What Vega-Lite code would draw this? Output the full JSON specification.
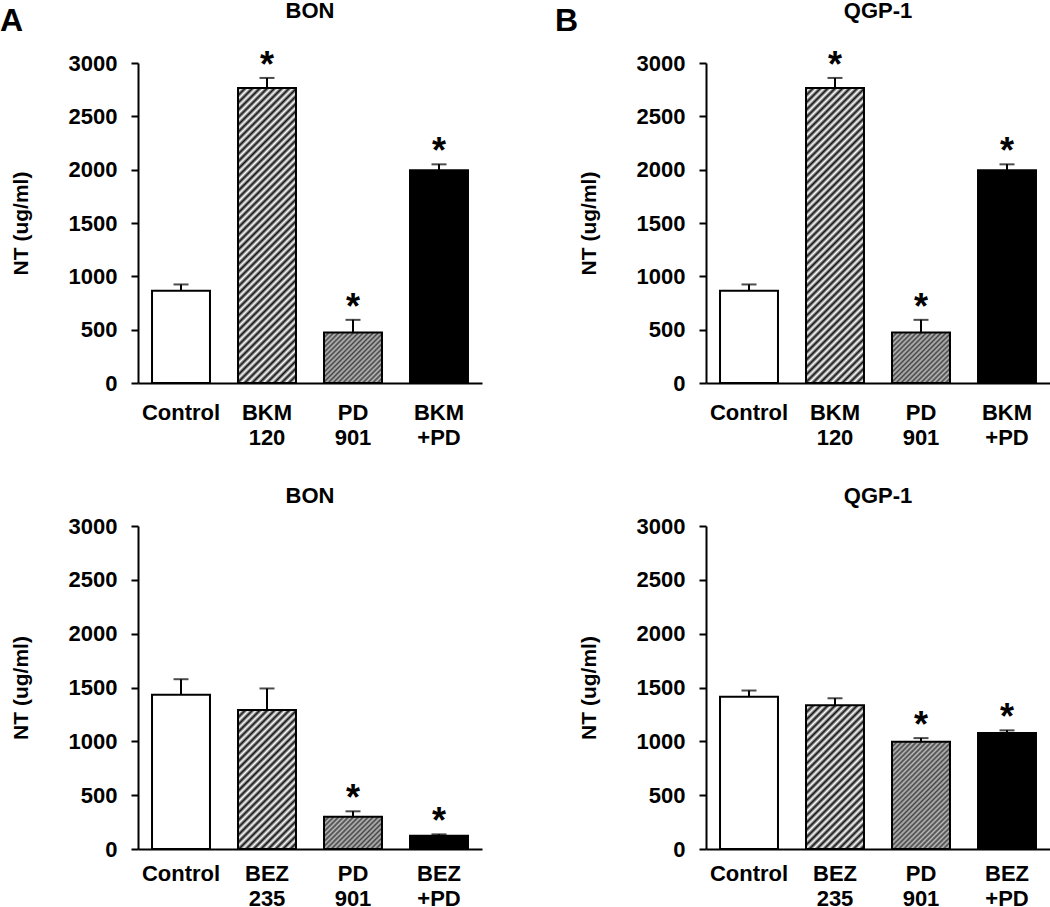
{
  "$schema": "https://vega.github.io/schema/vega-lite/v6.json",
  "background": "white",
  "padding": {"left": 0, "top": -1, "right": 0, "bottom": 0},
  "data": {"values": [
    {"panel": "A1", "drug": "Control", "type": "control", "value": 865, "hi": 924, "sig": ""},
    {"panel": "A1", "drug": "BKM 120", "type": "pi3k", "value": 2765, "hi": 2860, "sig": "*"},
    {"panel": "A1", "drug": "PD 901", "type": "mek", "value": 473, "hi": 592, "sig": "*"},
    {"panel": "A1", "drug": "BKM +PD", "type": "combo", "value": 1995, "hi": 2050, "sig": "*"},
    {"panel": "B1", "drug": "Control", "type": "control", "value": 865, "hi": 924, "sig": ""},
    {"panel": "B1", "drug": "BKM 120", "type": "pi3k", "value": 2765, "hi": 2860, "sig": "*"},
    {"panel": "B1", "drug": "PD 901", "type": "mek", "value": 473, "hi": 592, "sig": "*"},
    {"panel": "B1", "drug": "BKM +PD", "type": "combo", "value": 1995, "hi": 2050, "sig": "*"},
    {"panel": "A2", "drug": "Control", "type": "control", "value": 1432, "hi": 1577, "sig": ""},
    {"panel": "A2", "drug": "BEZ 235", "type": "pi3k", "value": 1290, "hi": 1491, "sig": ""},
    {"panel": "A2", "drug": "PD 901", "type": "mek", "value": 300, "hi": 350, "sig": "*"},
    {"panel": "A2", "drug": "BEZ +PD", "type": "combo", "value": 123, "hi": 136, "sig": "*"},
    {"panel": "B2", "drug": "Control", "type": "control", "value": 1415, "hi": 1472, "sig": ""},
    {"panel": "B2", "drug": "BEZ 235", "type": "pi3k", "value": 1335, "hi": 1400, "sig": ""},
    {"panel": "B2", "drug": "PD 901", "type": "mek", "value": 995, "hi": 1030, "sig": "*"},
    {"panel": "B2", "drug": "BEZ +PD", "type": "combo", "value": 1078, "hi": 1102, "sig": "*"}
  ]},
  "spacing": 73,
  "hconcat": [
    {
      "title": {"text": "A", "anchor": "start", "fontSize": 32, "offset": -38.8, "dx": -10},
      "spacing": 37,
      "vconcat": [
        {
          "title": {"text": "BON", "offset": 25.3},
          "width": 344, "height": 320,
          "transform": [{"filter": "datum.panel=='A1'"}],
          "encoding": {
            "x": {"field": "drug", "type": "nominal", "sort": null, "title": null, "scale": {"paddingInner": 0.326, "paddingOuter": 0.163}, "axis": {"labelExpr": "split(datum.label,' ')", "labelPadding": 19}},
            "y": {"field": "value", "type": "quantitative", "title": "NT (ug/ml)", "scale": {"domain": [0, 3000], "nice": false}, "axis": {"values": [0, 500, 1000, 1500, 2000, 2500, 3000], "format": "d"}}
          },
          "layer": [
            {"mark": {"type": "rule", "color": "#000", "strokeWidth": 2}, "encoding": {"y2": {"field": "hi"}}},
            {"mark": {"type": "tick", "color": "#000", "size": 15, "thickness": 2}, "encoding": {"y": {"field": "hi", "type": "quantitative", "title": "NT (ug/ml)"}}},
            {"transform": [{"filter": "datum.type=='control'||datum.type=='combo'"}], "mark": {"type": "bar", "stroke": "#000", "strokeWidth": 2}, "encoding": {"fill": {"condition": {"test": "datum.type=='combo'", "value": "#000"}, "value": "#fff"}}},
            {"transform": [{"filter": "datum.type=='pi3k'"}], "mark": {"type": "bar", "stroke": "#000", "strokeWidth": 2, "fill": {"gradient": "linear", "x1": 0, "y1": 0, "x2": 0.23609, "y2": 1.2004, "stops": [{"offset":0,"color":"#111"},{"offset":0.01,"color":"#fff"},{"offset":0.02,"color":"#111"},{"offset":0.03,"color":"#fff"},{"offset":0.04,"color":"#111"},{"offset":0.05,"color":"#fff"},{"offset":0.06,"color":"#111"},{"offset":0.07,"color":"#fff"},{"offset":0.08,"color":"#111"},{"offset":0.09,"color":"#fff"},{"offset":0.1,"color":"#111"},{"offset":0.11,"color":"#fff"},{"offset":0.12,"color":"#111"},{"offset":0.13,"color":"#fff"},{"offset":0.14,"color":"#111"},{"offset":0.15,"color":"#fff"},{"offset":0.16,"color":"#111"},{"offset":0.17,"color":"#fff"},{"offset":0.18,"color":"#111"},{"offset":0.19,"color":"#fff"},{"offset":0.2,"color":"#111"},{"offset":0.21,"color":"#fff"},{"offset":0.22,"color":"#111"},{"offset":0.23,"color":"#fff"},{"offset":0.24,"color":"#111"},{"offset":0.25,"color":"#fff"},{"offset":0.26,"color":"#111"},{"offset":0.27,"color":"#fff"},{"offset":0.28,"color":"#111"},{"offset":0.29,"color":"#fff"},{"offset":0.3,"color":"#111"},{"offset":0.31,"color":"#fff"},{"offset":0.32,"color":"#111"},{"offset":0.33,"color":"#fff"},{"offset":0.34,"color":"#111"},{"offset":0.35,"color":"#fff"},{"offset":0.36,"color":"#111"},{"offset":0.37,"color":"#fff"},{"offset":0.38,"color":"#111"},{"offset":0.39,"color":"#fff"},{"offset":0.4,"color":"#111"},{"offset":0.41,"color":"#fff"},{"offset":0.42,"color":"#111"},{"offset":0.43,"color":"#fff"},{"offset":0.44,"color":"#111"},{"offset":0.45,"color":"#fff"},{"offset":0.46,"color":"#111"},{"offset":0.47,"color":"#fff"},{"offset":0.48,"color":"#111"},{"offset":0.49,"color":"#fff"},{"offset":0.5,"color":"#111"},{"offset":0.51,"color":"#fff"},{"offset":0.52,"color":"#111"},{"offset":0.53,"color":"#fff"},{"offset":0.54,"color":"#111"},{"offset":0.55,"color":"#fff"},{"offset":0.56,"color":"#111"},{"offset":0.57,"color":"#fff"},{"offset":0.58,"color":"#111"},{"offset":0.59,"color":"#fff"},{"offset":0.6,"color":"#111"},{"offset":0.61,"color":"#fff"},{"offset":0.62,"color":"#111"},{"offset":0.63,"color":"#fff"},{"offset":0.64,"color":"#111"},{"offset":0.65,"color":"#fff"},{"offset":0.66,"color":"#111"},{"offset":0.67,"color":"#fff"},{"offset":0.68,"color":"#111"},{"offset":0.69,"color":"#fff"},{"offset":0.7,"color":"#111"},{"offset":0.71,"color":"#fff"},{"offset":0.72,"color":"#111"},{"offset":0.73,"color":"#fff"},{"offset":0.74,"color":"#111"},{"offset":0.75,"color":"#fff"},{"offset":0.76,"color":"#111"},{"offset":0.77,"color":"#fff"},{"offset":0.78,"color":"#111"},{"offset":0.79,"color":"#fff"},{"offset":0.8,"color":"#111"},{"offset":0.81,"color":"#fff"},{"offset":0.82,"color":"#111"},{"offset":0.83,"color":"#fff"},{"offset":0.84,"color":"#111"},{"offset":0.85,"color":"#fff"},{"offset":0.86,"color":"#111"},{"offset":0.87,"color":"#fff"},{"offset":0.88,"color":"#111"},{"offset":0.89,"color":"#fff"},{"offset":0.9,"color":"#111"},{"offset":0.91,"color":"#fff"},{"offset":0.92,"color":"#111"},{"offset":0.93,"color":"#fff"},{"offset":0.94,"color":"#111"},{"offset":0.95,"color":"#fff"},{"offset":0.96,"color":"#111"},{"offset":0.97,"color":"#fff"},{"offset":0.98,"color":"#111"},{"offset":0.99,"color":"#fff"},{"offset":1,"color":"#111"}]}}},
            {"transform": [{"filter": "datum.type=='mek'"}], "mark": {"type": "bar", "stroke": "#000", "strokeWidth": 2, "fill": {"gradient": "linear", "x1": 0, "y1": 0, "x2": 1.21353, "y2": 1.05661, "stops": [{"offset":0,"color":"#444"},{"offset":0.02,"color":"#bbb"},{"offset":0.04,"color":"#444"},{"offset":0.06,"color":"#bbb"},{"offset":0.08,"color":"#444"},{"offset":0.1,"color":"#bbb"},{"offset":0.12,"color":"#444"},{"offset":0.14,"color":"#bbb"},{"offset":0.16,"color":"#444"},{"offset":0.18,"color":"#bbb"},{"offset":0.2,"color":"#444"},{"offset":0.22,"color":"#bbb"},{"offset":0.24,"color":"#444"},{"offset":0.26,"color":"#bbb"},{"offset":0.28,"color":"#444"},{"offset":0.3,"color":"#bbb"},{"offset":0.32,"color":"#444"},{"offset":0.34,"color":"#bbb"},{"offset":0.36,"color":"#444"},{"offset":0.38,"color":"#bbb"},{"offset":0.4,"color":"#444"},{"offset":0.42,"color":"#bbb"},{"offset":0.44,"color":"#444"},{"offset":0.46,"color":"#bbb"},{"offset":0.48,"color":"#444"},{"offset":0.5,"color":"#bbb"},{"offset":0.52,"color":"#444"},{"offset":0.54,"color":"#bbb"},{"offset":0.56,"color":"#444"},{"offset":0.58,"color":"#bbb"},{"offset":0.6,"color":"#444"},{"offset":0.62,"color":"#bbb"},{"offset":0.64,"color":"#444"},{"offset":0.66,"color":"#bbb"},{"offset":0.68,"color":"#444"},{"offset":0.7,"color":"#bbb"},{"offset":0.72,"color":"#444"},{"offset":0.74,"color":"#bbb"},{"offset":0.76,"color":"#444"},{"offset":0.78,"color":"#bbb"},{"offset":0.8,"color":"#444"},{"offset":0.82,"color":"#bbb"},{"offset":0.84,"color":"#444"},{"offset":0.86,"color":"#bbb"},{"offset":0.88,"color":"#444"},{"offset":0.9,"color":"#bbb"},{"offset":0.92,"color":"#444"},{"offset":0.94,"color":"#bbb"},{"offset":0.96,"color":"#444"},{"offset":0.98,"color":"#bbb"},{"offset":1,"color":"#444"}]}}},
            {"transform": [{"filter": "datum.sig=='*'"}], "mark": {"type": "text", "text": "*", "fontSize": 36, "fontWeight": "bold", "baseline": "alphabetic", "dy": -1, "color": "#000"}, "encoding": {"y": {"field": "hi", "type": "quantitative", "title": "NT (ug/ml)"}}}
          ]
        },
        {
          "title": {"text": "BON", "offset": 7},
          "width": 344, "height": 323,
          "transform": [{"filter": "datum.panel=='A2'"}],
          "encoding": {
            "x": {"field": "drug", "type": "nominal", "sort": null, "title": null, "scale": {"paddingInner": 0.326, "paddingOuter": 0.163}, "axis": {"labelExpr": "split(datum.label,' ')", "labelPadding": 14}},
            "y": {"field": "value", "type": "quantitative", "title": "NT (ug/ml)", "scale": {"domain": [0, 3000], "nice": false}, "axis": {"values": [0, 500, 1000, 1500, 2000, 2500, 3000], "format": "d"}}
          },
          "layer": [
            {"mark": {"type": "rule", "color": "#000", "strokeWidth": 2}, "encoding": {"y2": {"field": "hi"}}},
            {"mark": {"type": "tick", "color": "#000", "size": 15, "thickness": 2}, "encoding": {"y": {"field": "hi", "type": "quantitative", "title": "NT (ug/ml)"}}},
            {"transform": [{"filter": "datum.type=='control'||datum.type=='combo'"}], "mark": {"type": "bar", "stroke": "#000", "strokeWidth": 2}, "encoding": {"fill": {"condition": {"test": "datum.type=='combo'", "value": "#000"}, "value": "#fff"}}},
            {"transform": [{"filter": "datum.type=='pi3k'"}], "mark": {"type": "bar", "stroke": "#000", "strokeWidth": 2, "fill": {"gradient": "linear", "x1": 0, "y1": 0, "x2": 0.94126, "y2": 2.25416, "stops": [{"offset":0,"color":"#111"},{"offset":0.01,"color":"#fff"},{"offset":0.02,"color":"#111"},{"offset":0.03,"color":"#fff"},{"offset":0.04,"color":"#111"},{"offset":0.05,"color":"#fff"},{"offset":0.06,"color":"#111"},{"offset":0.07,"color":"#fff"},{"offset":0.08,"color":"#111"},{"offset":0.09,"color":"#fff"},{"offset":0.1,"color":"#111"},{"offset":0.11,"color":"#fff"},{"offset":0.12,"color":"#111"},{"offset":0.13,"color":"#fff"},{"offset":0.14,"color":"#111"},{"offset":0.15,"color":"#fff"},{"offset":0.16,"color":"#111"},{"offset":0.17,"color":"#fff"},{"offset":0.18,"color":"#111"},{"offset":0.19,"color":"#fff"},{"offset":0.2,"color":"#111"},{"offset":0.21,"color":"#fff"},{"offset":0.22,"color":"#111"},{"offset":0.23,"color":"#fff"},{"offset":0.24,"color":"#111"},{"offset":0.25,"color":"#fff"},{"offset":0.26,"color":"#111"},{"offset":0.27,"color":"#fff"},{"offset":0.28,"color":"#111"},{"offset":0.29,"color":"#fff"},{"offset":0.3,"color":"#111"},{"offset":0.31,"color":"#fff"},{"offset":0.32,"color":"#111"},{"offset":0.33,"color":"#fff"},{"offset":0.34,"color":"#111"},{"offset":0.35,"color":"#fff"},{"offset":0.36,"color":"#111"},{"offset":0.37,"color":"#fff"},{"offset":0.38,"color":"#111"},{"offset":0.39,"color":"#fff"},{"offset":0.4,"color":"#111"},{"offset":0.41,"color":"#fff"},{"offset":0.42,"color":"#111"},{"offset":0.43,"color":"#fff"},{"offset":0.44,"color":"#111"},{"offset":0.45,"color":"#fff"},{"offset":0.46,"color":"#111"},{"offset":0.47,"color":"#fff"},{"offset":0.48,"color":"#111"},{"offset":0.49,"color":"#fff"},{"offset":0.5,"color":"#111"},{"offset":0.51,"color":"#fff"},{"offset":0.52,"color":"#111"},{"offset":0.53,"color":"#fff"},{"offset":0.54,"color":"#111"},{"offset":0.55,"color":"#fff"},{"offset":0.56,"color":"#111"},{"offset":0.57,"color":"#fff"},{"offset":0.58,"color":"#111"},{"offset":0.59,"color":"#fff"},{"offset":0.6,"color":"#111"},{"offset":0.61,"color":"#fff"},{"offset":0.62,"color":"#111"},{"offset":0.63,"color":"#fff"},{"offset":0.64,"color":"#111"},{"offset":0.65,"color":"#fff"},{"offset":0.66,"color":"#111"},{"offset":0.67,"color":"#fff"},{"offset":0.68,"color":"#111"},{"offset":0.69,"color":"#fff"},{"offset":0.7,"color":"#111"},{"offset":0.71,"color":"#fff"},{"offset":0.72,"color":"#111"},{"offset":0.73,"color":"#fff"},{"offset":0.74,"color":"#111"},{"offset":0.75,"color":"#fff"},{"offset":0.76,"color":"#111"},{"offset":0.77,"color":"#fff"},{"offset":0.78,"color":"#111"},{"offset":0.79,"color":"#fff"},{"offset":0.8,"color":"#111"},{"offset":0.81,"color":"#fff"},{"offset":0.82,"color":"#111"},{"offset":0.83,"color":"#fff"},{"offset":0.84,"color":"#111"},{"offset":0.85,"color":"#fff"},{"offset":0.86,"color":"#111"},{"offset":0.87,"color":"#fff"},{"offset":0.88,"color":"#111"},{"offset":0.89,"color":"#fff"},{"offset":0.9,"color":"#111"},{"offset":0.91,"color":"#fff"},{"offset":0.92,"color":"#111"},{"offset":0.93,"color":"#fff"},{"offset":0.94,"color":"#111"},{"offset":0.95,"color":"#fff"},{"offset":0.96,"color":"#111"},{"offset":0.97,"color":"#fff"},{"offset":0.98,"color":"#111"},{"offset":0.99,"color":"#fff"},{"offset":1,"color":"#111"}]}}},
            {"transform": [{"filter": "datum.type=='mek'"}], "mark": {"type": "bar", "stroke": "#000", "strokeWidth": 2, "fill": {"gradient": "linear", "x1": 0, "y1": 0, "x2": 1.62846, "y2": 0.90689, "stops": [{"offset":0,"color":"#444"},{"offset":0.02,"color":"#bbb"},{"offset":0.04,"color":"#444"},{"offset":0.06,"color":"#bbb"},{"offset":0.08,"color":"#444"},{"offset":0.1,"color":"#bbb"},{"offset":0.12,"color":"#444"},{"offset":0.14,"color":"#bbb"},{"offset":0.16,"color":"#444"},{"offset":0.18,"color":"#bbb"},{"offset":0.2,"color":"#444"},{"offset":0.22,"color":"#bbb"},{"offset":0.24,"color":"#444"},{"offset":0.26,"color":"#bbb"},{"offset":0.28,"color":"#444"},{"offset":0.3,"color":"#bbb"},{"offset":0.32,"color":"#444"},{"offset":0.34,"color":"#bbb"},{"offset":0.36,"color":"#444"},{"offset":0.38,"color":"#bbb"},{"offset":0.4,"color":"#444"},{"offset":0.42,"color":"#bbb"},{"offset":0.44,"color":"#444"},{"offset":0.46,"color":"#bbb"},{"offset":0.48,"color":"#444"},{"offset":0.5,"color":"#bbb"},{"offset":0.52,"color":"#444"},{"offset":0.54,"color":"#bbb"},{"offset":0.56,"color":"#444"},{"offset":0.58,"color":"#bbb"},{"offset":0.6,"color":"#444"},{"offset":0.62,"color":"#bbb"},{"offset":0.64,"color":"#444"},{"offset":0.66,"color":"#bbb"},{"offset":0.68,"color":"#444"},{"offset":0.7,"color":"#bbb"},{"offset":0.72,"color":"#444"},{"offset":0.74,"color":"#bbb"},{"offset":0.76,"color":"#444"},{"offset":0.78,"color":"#bbb"},{"offset":0.8,"color":"#444"},{"offset":0.82,"color":"#bbb"},{"offset":0.84,"color":"#444"},{"offset":0.86,"color":"#bbb"},{"offset":0.88,"color":"#444"},{"offset":0.9,"color":"#bbb"},{"offset":0.92,"color":"#444"},{"offset":0.94,"color":"#bbb"},{"offset":0.96,"color":"#444"},{"offset":0.98,"color":"#bbb"},{"offset":1,"color":"#444"}]}}},
            {"transform": [{"filter": "datum.sig=='*'"}], "mark": {"type": "text", "text": "*", "fontSize": 36, "fontWeight": "bold", "baseline": "alphabetic", "dy": -1, "color": "#000"}, "encoding": {"y": {"field": "hi", "type": "quantitative", "title": "NT (ug/ml)"}}}
          ]
        }
      ]
    },
    {
      "title": {"text": "B", "anchor": "start", "fontSize": 32, "offset": -38.8, "dx": -23},
      "spacing": 37,
      "vconcat": [
        {
          "title": {"text": "QGP-1", "offset": 25.3},
          "width": 344, "height": 320,
          "transform": [{"filter": "datum.panel=='B1'"}],
          "encoding": {
            "x": {"field": "drug", "type": "nominal", "sort": null, "title": null, "scale": {"paddingInner": 0.326, "paddingOuter": 0.163}, "axis": {"labelExpr": "split(datum.label,' ')", "labelPadding": 19}},
            "y": {"field": "value", "type": "quantitative", "title": "NT (ug/ml)", "scale": {"domain": [0, 3000], "nice": false}, "axis": {"values": [0, 500, 1000, 1500, 2000, 2500, 3000], "format": "d"}}
          },
          "layer": [
            {"mark": {"type": "rule", "color": "#000", "strokeWidth": 2}, "encoding": {"y2": {"field": "hi"}}},
            {"mark": {"type": "tick", "color": "#000", "size": 15, "thickness": 2}, "encoding": {"y": {"field": "hi", "type": "quantitative", "title": "NT (ug/ml)"}}},
            {"transform": [{"filter": "datum.type=='control'||datum.type=='combo'"}], "mark": {"type": "bar", "stroke": "#000", "strokeWidth": 2}, "encoding": {"fill": {"condition": {"test": "datum.type=='combo'", "value": "#000"}, "value": "#fff"}}},
            {"transform": [{"filter": "datum.type=='pi3k'"}], "mark": {"type": "bar", "stroke": "#000", "strokeWidth": 2, "fill": {"gradient": "linear", "x1": 0, "y1": 0, "x2": 0.23609, "y2": 1.2004, "stops": [{"offset":0,"color":"#111"},{"offset":0.01,"color":"#fff"},{"offset":0.02,"color":"#111"},{"offset":0.03,"color":"#fff"},{"offset":0.04,"color":"#111"},{"offset":0.05,"color":"#fff"},{"offset":0.06,"color":"#111"},{"offset":0.07,"color":"#fff"},{"offset":0.08,"color":"#111"},{"offset":0.09,"color":"#fff"},{"offset":0.1,"color":"#111"},{"offset":0.11,"color":"#fff"},{"offset":0.12,"color":"#111"},{"offset":0.13,"color":"#fff"},{"offset":0.14,"color":"#111"},{"offset":0.15,"color":"#fff"},{"offset":0.16,"color":"#111"},{"offset":0.17,"color":"#fff"},{"offset":0.18,"color":"#111"},{"offset":0.19,"color":"#fff"},{"offset":0.2,"color":"#111"},{"offset":0.21,"color":"#fff"},{"offset":0.22,"color":"#111"},{"offset":0.23,"color":"#fff"},{"offset":0.24,"color":"#111"},{"offset":0.25,"color":"#fff"},{"offset":0.26,"color":"#111"},{"offset":0.27,"color":"#fff"},{"offset":0.28,"color":"#111"},{"offset":0.29,"color":"#fff"},{"offset":0.3,"color":"#111"},{"offset":0.31,"color":"#fff"},{"offset":0.32,"color":"#111"},{"offset":0.33,"color":"#fff"},{"offset":0.34,"color":"#111"},{"offset":0.35,"color":"#fff"},{"offset":0.36,"color":"#111"},{"offset":0.37,"color":"#fff"},{"offset":0.38,"color":"#111"},{"offset":0.39,"color":"#fff"},{"offset":0.4,"color":"#111"},{"offset":0.41,"color":"#fff"},{"offset":0.42,"color":"#111"},{"offset":0.43,"color":"#fff"},{"offset":0.44,"color":"#111"},{"offset":0.45,"color":"#fff"},{"offset":0.46,"color":"#111"},{"offset":0.47,"color":"#fff"},{"offset":0.48,"color":"#111"},{"offset":0.49,"color":"#fff"},{"offset":0.5,"color":"#111"},{"offset":0.51,"color":"#fff"},{"offset":0.52,"color":"#111"},{"offset":0.53,"color":"#fff"},{"offset":0.54,"color":"#111"},{"offset":0.55,"color":"#fff"},{"offset":0.56,"color":"#111"},{"offset":0.57,"color":"#fff"},{"offset":0.58,"color":"#111"},{"offset":0.59,"color":"#fff"},{"offset":0.6,"color":"#111"},{"offset":0.61,"color":"#fff"},{"offset":0.62,"color":"#111"},{"offset":0.63,"color":"#fff"},{"offset":0.64,"color":"#111"},{"offset":0.65,"color":"#fff"},{"offset":0.66,"color":"#111"},{"offset":0.67,"color":"#fff"},{"offset":0.68,"color":"#111"},{"offset":0.69,"color":"#fff"},{"offset":0.7,"color":"#111"},{"offset":0.71,"color":"#fff"},{"offset":0.72,"color":"#111"},{"offset":0.73,"color":"#fff"},{"offset":0.74,"color":"#111"},{"offset":0.75,"color":"#fff"},{"offset":0.76,"color":"#111"},{"offset":0.77,"color":"#fff"},{"offset":0.78,"color":"#111"},{"offset":0.79,"color":"#fff"},{"offset":0.8,"color":"#111"},{"offset":0.81,"color":"#fff"},{"offset":0.82,"color":"#111"},{"offset":0.83,"color":"#fff"},{"offset":0.84,"color":"#111"},{"offset":0.85,"color":"#fff"},{"offset":0.86,"color":"#111"},{"offset":0.87,"color":"#fff"},{"offset":0.88,"color":"#111"},{"offset":0.89,"color":"#fff"},{"offset":0.9,"color":"#111"},{"offset":0.91,"color":"#fff"},{"offset":0.92,"color":"#111"},{"offset":0.93,"color":"#fff"},{"offset":0.94,"color":"#111"},{"offset":0.95,"color":"#fff"},{"offset":0.96,"color":"#111"},{"offset":0.97,"color":"#fff"},{"offset":0.98,"color":"#111"},{"offset":0.99,"color":"#fff"},{"offset":1,"color":"#111"}]}}},
            {"transform": [{"filter": "datum.type=='mek'"}], "mark": {"type": "bar", "stroke": "#000", "strokeWidth": 2, "fill": {"gradient": "linear", "x1": 0, "y1": 0, "x2": 1.21353, "y2": 1.05661, "stops": [{"offset":0,"color":"#444"},{"offset":0.02,"color":"#bbb"},{"offset":0.04,"color":"#444"},{"offset":0.06,"color":"#bbb"},{"offset":0.08,"color":"#444"},{"offset":0.1,"color":"#bbb"},{"offset":0.12,"color":"#444"},{"offset":0.14,"color":"#bbb"},{"offset":0.16,"color":"#444"},{"offset":0.18,"color":"#bbb"},{"offset":0.2,"color":"#444"},{"offset":0.22,"color":"#bbb"},{"offset":0.24,"color":"#444"},{"offset":0.26,"color":"#bbb"},{"offset":0.28,"color":"#444"},{"offset":0.3,"color":"#bbb"},{"offset":0.32,"color":"#444"},{"offset":0.34,"color":"#bbb"},{"offset":0.36,"color":"#444"},{"offset":0.38,"color":"#bbb"},{"offset":0.4,"color":"#444"},{"offset":0.42,"color":"#bbb"},{"offset":0.44,"color":"#444"},{"offset":0.46,"color":"#bbb"},{"offset":0.48,"color":"#444"},{"offset":0.5,"color":"#bbb"},{"offset":0.52,"color":"#444"},{"offset":0.54,"color":"#bbb"},{"offset":0.56,"color":"#444"},{"offset":0.58,"color":"#bbb"},{"offset":0.6,"color":"#444"},{"offset":0.62,"color":"#bbb"},{"offset":0.64,"color":"#444"},{"offset":0.66,"color":"#bbb"},{"offset":0.68,"color":"#444"},{"offset":0.7,"color":"#bbb"},{"offset":0.72,"color":"#444"},{"offset":0.74,"color":"#bbb"},{"offset":0.76,"color":"#444"},{"offset":0.78,"color":"#bbb"},{"offset":0.8,"color":"#444"},{"offset":0.82,"color":"#bbb"},{"offset":0.84,"color":"#444"},{"offset":0.86,"color":"#bbb"},{"offset":0.88,"color":"#444"},{"offset":0.9,"color":"#bbb"},{"offset":0.92,"color":"#444"},{"offset":0.94,"color":"#bbb"},{"offset":0.96,"color":"#444"},{"offset":0.98,"color":"#bbb"},{"offset":1,"color":"#444"}]}}},
            {"transform": [{"filter": "datum.sig=='*'"}], "mark": {"type": "text", "text": "*", "fontSize": 36, "fontWeight": "bold", "baseline": "alphabetic", "dy": -1, "color": "#000"}, "encoding": {"y": {"field": "hi", "type": "quantitative", "title": "NT (ug/ml)"}}}
          ]
        },
        {
          "title": {"text": "QGP-1", "offset": 7},
          "width": 344, "height": 323,
          "transform": [{"filter": "datum.panel=='B2'"}],
          "encoding": {
            "x": {"field": "drug", "type": "nominal", "sort": null, "title": null, "scale": {"paddingInner": 0.326, "paddingOuter": 0.163}, "axis": {"labelExpr": "split(datum.label,' ')", "labelPadding": 14}},
            "y": {"field": "value", "type": "quantitative", "title": "NT (ug/ml)", "scale": {"domain": [0, 3000], "nice": false}, "axis": {"values": [0, 500, 1000, 1500, 2000, 2500, 3000], "format": "d"}}
          },
          "layer": [
            {"mark": {"type": "rule", "color": "#000", "strokeWidth": 2}, "encoding": {"y2": {"field": "hi"}}},
            {"mark": {"type": "tick", "color": "#000", "size": 15, "thickness": 2}, "encoding": {"y": {"field": "hi", "type": "quantitative", "title": "NT (ug/ml)"}}},
            {"transform": [{"filter": "datum.type=='control'||datum.type=='combo'"}], "mark": {"type": "bar", "stroke": "#000", "strokeWidth": 2}, "encoding": {"fill": {"condition": {"test": "datum.type=='combo'", "value": "#000"}, "value": "#fff"}}},
            {"transform": [{"filter": "datum.type=='pi3k'"}], "mark": {"type": "bar", "stroke": "#000", "strokeWidth": 2, "fill": {"gradient": "linear", "x1": 0, "y1": 0, "x2": 0.88809, "y2": 2.20032, "stops": [{"offset":0,"color":"#111"},{"offset":0.01,"color":"#fff"},{"offset":0.02,"color":"#111"},{"offset":0.03,"color":"#fff"},{"offset":0.04,"color":"#111"},{"offset":0.05,"color":"#fff"},{"offset":0.06,"color":"#111"},{"offset":0.07,"color":"#fff"},{"offset":0.08,"color":"#111"},{"offset":0.09,"color":"#fff"},{"offset":0.1,"color":"#111"},{"offset":0.11,"color":"#fff"},{"offset":0.12,"color":"#111"},{"offset":0.13,"color":"#fff"},{"offset":0.14,"color":"#111"},{"offset":0.15,"color":"#fff"},{"offset":0.16,"color":"#111"},{"offset":0.17,"color":"#fff"},{"offset":0.18,"color":"#111"},{"offset":0.19,"color":"#fff"},{"offset":0.2,"color":"#111"},{"offset":0.21,"color":"#fff"},{"offset":0.22,"color":"#111"},{"offset":0.23,"color":"#fff"},{"offset":0.24,"color":"#111"},{"offset":0.25,"color":"#fff"},{"offset":0.26,"color":"#111"},{"offset":0.27,"color":"#fff"},{"offset":0.28,"color":"#111"},{"offset":0.29,"color":"#fff"},{"offset":0.3,"color":"#111"},{"offset":0.31,"color":"#fff"},{"offset":0.32,"color":"#111"},{"offset":0.33,"color":"#fff"},{"offset":0.34,"color":"#111"},{"offset":0.35,"color":"#fff"},{"offset":0.36,"color":"#111"},{"offset":0.37,"color":"#fff"},{"offset":0.38,"color":"#111"},{"offset":0.39,"color":"#fff"},{"offset":0.4,"color":"#111"},{"offset":0.41,"color":"#fff"},{"offset":0.42,"color":"#111"},{"offset":0.43,"color":"#fff"},{"offset":0.44,"color":"#111"},{"offset":0.45,"color":"#fff"},{"offset":0.46,"color":"#111"},{"offset":0.47,"color":"#fff"},{"offset":0.48,"color":"#111"},{"offset":0.49,"color":"#fff"},{"offset":0.5,"color":"#111"},{"offset":0.51,"color":"#fff"},{"offset":0.52,"color":"#111"},{"offset":0.53,"color":"#fff"},{"offset":0.54,"color":"#111"},{"offset":0.55,"color":"#fff"},{"offset":0.56,"color":"#111"},{"offset":0.57,"color":"#fff"},{"offset":0.58,"color":"#111"},{"offset":0.59,"color":"#fff"},{"offset":0.6,"color":"#111"},{"offset":0.61,"color":"#fff"},{"offset":0.62,"color":"#111"},{"offset":0.63,"color":"#fff"},{"offset":0.64,"color":"#111"},{"offset":0.65,"color":"#fff"},{"offset":0.66,"color":"#111"},{"offset":0.67,"color":"#fff"},{"offset":0.68,"color":"#111"},{"offset":0.69,"color":"#fff"},{"offset":0.7,"color":"#111"},{"offset":0.71,"color":"#fff"},{"offset":0.72,"color":"#111"},{"offset":0.73,"color":"#fff"},{"offset":0.74,"color":"#111"},{"offset":0.75,"color":"#fff"},{"offset":0.76,"color":"#111"},{"offset":0.77,"color":"#fff"},{"offset":0.78,"color":"#111"},{"offset":0.79,"color":"#fff"},{"offset":0.8,"color":"#111"},{"offset":0.81,"color":"#fff"},{"offset":0.82,"color":"#111"},{"offset":0.83,"color":"#fff"},{"offset":0.84,"color":"#111"},{"offset":0.85,"color":"#fff"},{"offset":0.86,"color":"#111"},{"offset":0.87,"color":"#fff"},{"offset":0.88,"color":"#111"},{"offset":0.89,"color":"#fff"},{"offset":0.9,"color":"#111"},{"offset":0.91,"color":"#fff"},{"offset":0.92,"color":"#111"},{"offset":0.93,"color":"#fff"},{"offset":0.94,"color":"#111"},{"offset":0.95,"color":"#fff"},{"offset":0.96,"color":"#111"},{"offset":0.97,"color":"#fff"},{"offset":0.98,"color":"#111"},{"offset":0.99,"color":"#fff"},{"offset":1,"color":"#111"}]}}},
            {"transform": [{"filter": "datum.type=='mek'"}], "mark": {"type": "bar", "stroke": "#000", "strokeWidth": 2, "fill": {"gradient": "linear", "x1": 0, "y1": 0, "x2": 0.96763, "y2": 1.78677, "stops": [{"offset":0,"color":"#444"},{"offset":0.01,"color":"#bbb"},{"offset":0.02,"color":"#444"},{"offset":0.03,"color":"#bbb"},{"offset":0.04,"color":"#444"},{"offset":0.05,"color":"#bbb"},{"offset":0.06,"color":"#444"},{"offset":0.07,"color":"#bbb"},{"offset":0.08,"color":"#444"},{"offset":0.09,"color":"#bbb"},{"offset":0.1,"color":"#444"},{"offset":0.11,"color":"#bbb"},{"offset":0.12,"color":"#444"},{"offset":0.13,"color":"#bbb"},{"offset":0.14,"color":"#444"},{"offset":0.15,"color":"#bbb"},{"offset":0.16,"color":"#444"},{"offset":0.17,"color":"#bbb"},{"offset":0.18,"color":"#444"},{"offset":0.19,"color":"#bbb"},{"offset":0.2,"color":"#444"},{"offset":0.21,"color":"#bbb"},{"offset":0.22,"color":"#444"},{"offset":0.23,"color":"#bbb"},{"offset":0.24,"color":"#444"},{"offset":0.25,"color":"#bbb"},{"offset":0.26,"color":"#444"},{"offset":0.27,"color":"#bbb"},{"offset":0.28,"color":"#444"},{"offset":0.29,"color":"#bbb"},{"offset":0.3,"color":"#444"},{"offset":0.31,"color":"#bbb"},{"offset":0.32,"color":"#444"},{"offset":0.33,"color":"#bbb"},{"offset":0.34,"color":"#444"},{"offset":0.35,"color":"#bbb"},{"offset":0.36,"color":"#444"},{"offset":0.37,"color":"#bbb"},{"offset":0.38,"color":"#444"},{"offset":0.39,"color":"#bbb"},{"offset":0.4,"color":"#444"},{"offset":0.41,"color":"#bbb"},{"offset":0.42,"color":"#444"},{"offset":0.43,"color":"#bbb"},{"offset":0.44,"color":"#444"},{"offset":0.45,"color":"#bbb"},{"offset":0.46,"color":"#444"},{"offset":0.47,"color":"#bbb"},{"offset":0.48,"color":"#444"},{"offset":0.49,"color":"#bbb"},{"offset":0.5,"color":"#444"},{"offset":0.51,"color":"#bbb"},{"offset":0.52,"color":"#444"},{"offset":0.53,"color":"#bbb"},{"offset":0.54,"color":"#444"},{"offset":0.55,"color":"#bbb"},{"offset":0.56,"color":"#444"},{"offset":0.57,"color":"#bbb"},{"offset":0.58,"color":"#444"},{"offset":0.59,"color":"#bbb"},{"offset":0.6,"color":"#444"},{"offset":0.61,"color":"#bbb"},{"offset":0.62,"color":"#444"},{"offset":0.63,"color":"#bbb"},{"offset":0.64,"color":"#444"},{"offset":0.65,"color":"#bbb"},{"offset":0.66,"color":"#444"},{"offset":0.67,"color":"#bbb"},{"offset":0.68,"color":"#444"},{"offset":0.69,"color":"#bbb"},{"offset":0.7,"color":"#444"},{"offset":0.71,"color":"#bbb"},{"offset":0.72,"color":"#444"},{"offset":0.73,"color":"#bbb"},{"offset":0.74,"color":"#444"},{"offset":0.75,"color":"#bbb"},{"offset":0.76,"color":"#444"},{"offset":0.77,"color":"#bbb"},{"offset":0.78,"color":"#444"},{"offset":0.79,"color":"#bbb"},{"offset":0.8,"color":"#444"},{"offset":0.81,"color":"#bbb"},{"offset":0.82,"color":"#444"},{"offset":0.83,"color":"#bbb"},{"offset":0.84,"color":"#444"},{"offset":0.85,"color":"#bbb"},{"offset":0.86,"color":"#444"},{"offset":0.87,"color":"#bbb"},{"offset":0.88,"color":"#444"},{"offset":0.89,"color":"#bbb"},{"offset":0.9,"color":"#444"},{"offset":0.91,"color":"#bbb"},{"offset":0.92,"color":"#444"},{"offset":0.93,"color":"#bbb"},{"offset":0.94,"color":"#444"},{"offset":0.95,"color":"#bbb"},{"offset":0.96,"color":"#444"},{"offset":0.97,"color":"#bbb"},{"offset":0.98,"color":"#444"},{"offset":0.99,"color":"#bbb"},{"offset":1,"color":"#444"}]}}},
            {"transform": [{"filter": "datum.sig=='*'"}], "mark": {"type": "text", "text": "*", "fontSize": 36, "fontWeight": "bold", "baseline": "alphabetic", "dy": -1, "color": "#000"}, "encoding": {"y": {"field": "hi", "type": "quantitative", "title": "NT (ug/ml)"}}}
          ]
        }
      ]
    }
  ],
  "config": {
    "font": "Liberation Sans",
    "view": {"stroke": null},
    "title": {"font": "Liberation Sans", "fontSize": 22, "fontWeight": "bold", "color": "#000"},
    "axis": {"labelFont": "Liberation Sans", "labelFontSize": 22, "labelFontWeight": "bold", "labelColor": "#000", "titleFont": "Liberation Sans", "titleFontSize": 21, "titleFontWeight": "bold", "titleColor": "#000", "domainColor": "#000", "domainWidth": 2, "tickColor": "#000", "tickWidth": 2, "grid": false},
    "axisX": {"ticks": false, "tickSize": 0, "labelAngle": 0, "labelLineHeight": 25},
    "axisY": {"tickSize": 7, "labelPadding": 14, "titlePadding": 37}
  }
}
